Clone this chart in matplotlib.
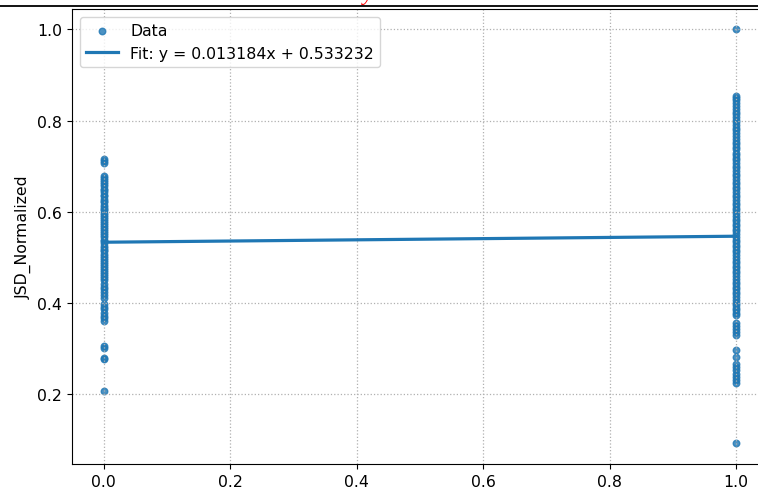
import numpy as np
import matplotlib
matplotlib.use("Agg")
import matplotlib.pyplot as plt
from matplotlib.lines import Line2D

# group flag (0 / 1) and the normalized JSD per sample
jsd_group0 = [
    0.716, 0.712, 0.707,
    0.678, 0.675, 0.670, 0.666, 0.661, 0.657, 0.651, 0.647, 0.643, 0.637,
    0.634, 0.629, 0.624, 0.621, 0.616, 0.611, 0.607, 0.603, 0.598, 0.593,
    0.589, 0.585, 0.580, 0.575, 0.571, 0.567, 0.562, 0.557, 0.553, 0.549,
    0.544, 0.539, 0.535, 0.531, 0.526, 0.521, 0.517, 0.513, 0.508, 0.503,
    0.499, 0.495, 0.490, 0.485, 0.481, 0.477, 0.472, 0.467, 0.463, 0.459,
    0.454, 0.450,
    0.441, 0.436, 0.430, 0.424, 0.418, 0.411,
    0.398, 0.392, 0.386, 0.379, 0.372, 0.366, 0.361,
    0.305, 0.302, 0.280, 0.277, 0.207,
]
jsd_group1 = [
    1.000,
    0.855, 0.850, 0.845, 0.838, 0.832, 0.826, 0.820, 0.815, 0.808, 0.802,
    0.797, 0.790, 0.784, 0.779, 0.772, 0.766, 0.760, 0.754, 0.748, 0.742,
    0.737, 0.730, 0.725, 0.718, 0.713, 0.707, 0.701, 0.695, 0.690, 0.684,
    0.678, 0.672, 0.666, 0.661, 0.655, 0.649, 0.643, 0.637, 0.632, 0.626,
    0.620, 0.614, 0.608, 0.603, 0.597, 0.591, 0.585, 0.580, 0.574, 0.568,
    0.562, 0.557, 0.551, 0.545, 0.539, 0.534, 0.528, 0.522, 0.516, 0.511,
    0.505, 0.499, 0.493, 0.488, 0.482, 0.476, 0.470, 0.465, 0.459, 0.453,
    0.447, 0.442, 0.436, 0.430, 0.424, 0.419, 0.413, 0.407, 0.401, 0.396,
    0.390, 0.384, 0.378, 0.373,
    0.355, 0.349, 0.343, 0.337, 0.330,
    0.296, 0.281,
    0.266, 0.259, 0.252, 0.245, 0.238, 0.231, 0.224,
    0.092,
]
slope = 0.013184
intercept = 0.533232

x = np.concatenate([np.zeros(len(jsd_group0)), np.ones(len(jsd_group1))])
y = np.array(jsd_group0 + jsd_group1)

plt.rcParams["font.size"] = 11.3

fig = plt.figure(figsize=(7.58, 4.89), dpi=100)
ax = fig.add_axes([0.095, 0.049, 0.918, 0.931])

ax.scatter(x, y, s=22, alpha=0.8, color="C0", label="Data")
xs = np.array([0.0, 1.0])
ax.plot(xs, slope * xs + intercept, color="C0", linewidth=2.3,
        label=f"Fit: y = {slope:.6f}x + {intercept:.6f}")

ax.set_ylabel("JSD_Normalized")
ax.grid(True, linestyle=":", color="#b0b0b0", linewidth=0.9)
ax.legend(loc="upper left")

# rule and title tail above the axes
fig.add_artist(Line2D([0, 1], [1 - 7 / 489, 1 - 7 / 489],
                      transform=fig.transFigure, color="black", linewidth=1.3))
fig.text(368 / 758, 1.0, "y", color="red", fontsize=16,
         family="Liberation Serif", style="italic", ha="center", va="baseline")

fig.savefig("out.png", dpi=100)
